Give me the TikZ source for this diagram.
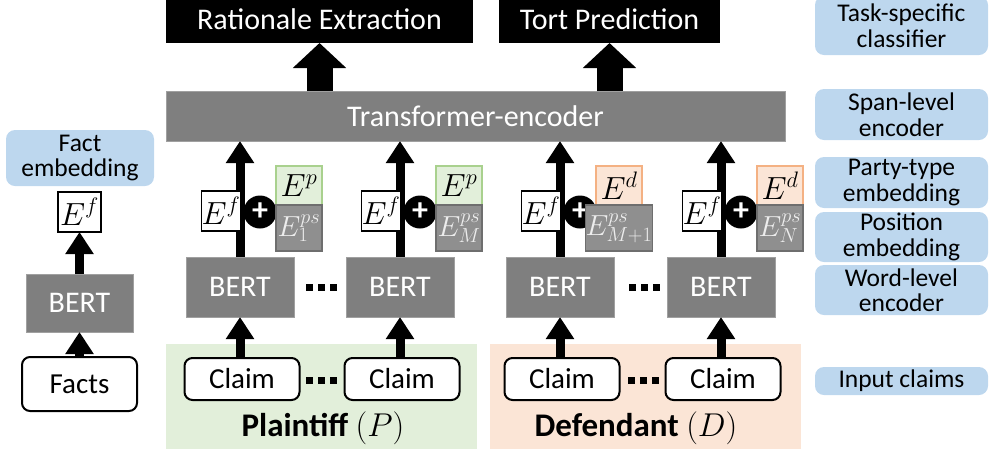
\documentclass[tikz,border=0pt]{standalone}
\usepackage{fix-cm}
\usepackage{fontspec}
\setmainfont{Carlito}
\usetikzlibrary{arrows.meta}
\definecolor{lblue}{HTML}{BDD7EE}
\definecolor{lgreen}{HTML}{E2EFDA}
\definecolor{dgreen}{HTML}{A9D18E}
\definecolor{lorange}{HTML}{FBE5D6}
\definecolor{dorange}{HTML}{F4B183}
\definecolor{midgray}{HTML}{7F7F7F}
\definecolor{edgegray}{HTML}{A0A0A0}
\definecolor{psgray}{HTML}{8F8F8F}
\definecolor{psedge}{HTML}{6E6E6E}
\definecolor{pstext}{HTML}{EDEDED}
\newcommand\sqdots[2]{\foreach \d in {-12,0,12}{\fill[black] (#1+\d-3.5,#2-3.5) rectangle ++(7,7);}}
\begin{document}
\begin{tikzpicture}[x=1pt,y=-1pt,
  every node/.style={inner sep=0pt, outer sep=0pt},
  titlebox/.style={fill=black, text=white, font=\fontsize{30}{30}\selectfont},
  graybox/.style={fill=midgray, draw=edgegray, line width=0.8pt, text=white, font=\fontsize{30}{30}\selectfont},
  claimbox/.style={fill=white, draw=black, line width=2pt, rounded corners=8pt, font=\fontsize{29}{29}\selectfont},
  efbox/.style={fill=white, draw=black, line width=1.5pt, font=\fontsize{32}{32}\selectfont},
  plusnode/.style={circle, fill=black, minimum size=33pt, text=white, font=\fontsize{32}{32}\selectfont\bfseries},
  pbox/.style={fill=lgreen, draw=dgreen, line width=2pt, minimum width=46pt, minimum height=39pt, font=\fontsize{32}{32}\selectfont},
  dbox/.style={fill=lorange, draw=dorange, line width=2pt, minimum width=46pt, minimum height=39pt, font=\fontsize{32}{32}\selectfont},
  psbox/.style={fill=psgray, draw=psedge, line width=1.5pt, minimum width=46pt, minimum height=46pt, text=pstext, font=\fontsize{29}{29}\selectfont},
  label/.style={fill=lblue, rounded corners=9pt, align=center, minimum width=173pt, font=\fontsize{25.5}{25.5}\selectfont},
  bigarrow/.style={line width=26pt, -{Triangle[width=52pt,length=25pt]}},
  medarrow/.style={line width=9pt, -{Triangle[width=27pt,length=22pt]}},
  party/.style={font=\fontsize{33}{33}\selectfont\bfseries}
]
\useasboundingbox (0,0) rectangle (989,448);
\clip (0,0) rectangle (989,448);

% party backgrounds
\fill[lgreen] (166,344) rectangle (477,460);
\fill[lorange] (490,344) rectangle (801,460);

% top classifiers
\node[titlebox, minimum width=307pt, minimum height=48pt] (re) at (319.5,19) {Rationale Extraction};
\node[titlebox, minimum width=221pt, minimum height=48pt] (tp) at (609.5,19) {Tort Prediction};

% transformer
\node[graybox, minimum width=619pt, minimum height=50pt] (te) at (475.5,116) {Transformer-encoder};
\draw[bigarrow] (te.north -| re.south) -- (re.south);
\draw[bigarrow] (te.north -| tp.south) -- (tp.south);

% columns
\foreach \i/\a/\c/\kind/\sup/\sub in {1/240/242/pbox/p/1, 2/400/402/pbox/p/M, 3/560/562/dbox/d/{M+1}, 4/721/723/dbox/d/N}{
  \node[graybox, minimum width=108pt, minimum height=60pt] (bert\i) at (\a,287) {BERT};
  \node[claimbox, minimum width=115pt, minimum height=42pt] (claim\i) at (\c,379) {Claim};
  \draw[medarrow] (bert\i.south |- claim\i.north) -- (bert\i.south);
  \draw[medarrow] (bert\i.north) -- (bert\i.north |- te.south);
  \node[efbox, minimum width=38pt, minimum height=40pt] (ef\i) at (\a-19,211) {$E^f$};
  \node[plusnode] (plus\i) at (\a+20,212) {+};
  \node[\kind] (ep\i) at (\a+59,185.5) {$E^{\sup}$};
  \node[psbox] (eps\i) at (\a+59,228) {$E^{ps}_{\sub}$};
}

\sqdots{321}{287}
\sqdots{644}{287}
\sqdots{321}{380}
\sqdots{643}{380}

\node[party] (pl) at (323,428) {Plaintiff \mdseries$(P)$};
\node[party] (df) at (636,428) {Defendant \mdseries$(D)$};

% fact column
\node[label, minimum width=148pt, minimum height=56pt] (fe) at (80,158) {Fact\\embedding};
\node[efbox, minimum width=43pt, minimum height=40pt] (ef0) at (79.5,212) {$E^f$};
\node[graybox, minimum width=107pt, minimum height=58pt] (bert0) at (79.5,303) {BERT};
\node[claimbox, minimum width=115pt, minimum height=54pt] (facts) at (79.5,384) {Facts};
\draw[medarrow] (facts.north) -- (bert0.south);
\draw[medarrow] (bert0.north) -- (ef0.south);

% right labels
\node[label, minimum height=59pt] (l1) at (901.5,25.5) {Task-specific\\classifier};
\node[label, minimum height=51pt] (l2) at (901.5,114.5) {Span-level\\encoder};
\node[label, minimum height=51pt] (l3) at (901.5,182.5) {Party-type\\embedding};
\node[label, minimum height=50pt] (l4) at (901.5,237) {Position\\embedding};
\node[label, minimum height=50pt] (l5) at (901.5,290) {Word-level\\encoder};
\node[label, minimum height=28pt] (l6) at (901.5,381) {Input claims};
\end{tikzpicture}
\end{document}
